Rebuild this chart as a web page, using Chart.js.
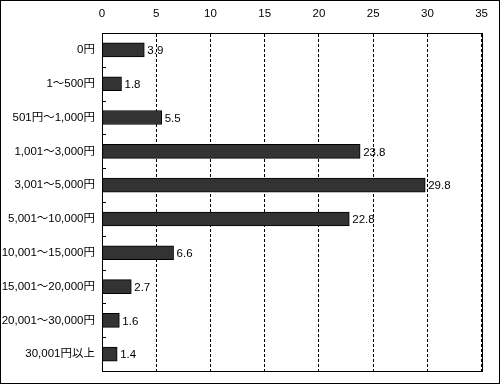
<!DOCTYPE html>
<html lang="ja">
<head>
  <meta charset="UTF-8">
  <title>金額分布</title>
  <script src="https://cdn.jsdelivr.net/npm/chart.js"></script>
  <style>
    body { margin: 0; padding: 0; background: #fff; }
    .wrap { position: relative; width: 500px; height: 385px; }
  </style>
</head>
<body>
  <div class="wrap">
    <canvas id="chart" width="500" height="385"></canvas>
  </div>

  <script>
    // categories and values
    const categories = [
      '0円', '1～500円', '501円～1,000円', '1,001～3,000円', '3,001～5,000円',
      '5,001～10,000円', '10,001～15,000円', '15,001～20,000円', '20,001～30,000円', '30,001円以上'
    ];
    const values = [3.9, 1.8, 5.5, 23.8, 29.8, 22.8, 6.6, 2.7, 1.6, 1.4];
    const xTicks = [0, 5, 10, 15, 20, 25, 30, 35];

    const FONT = { family: "'Liberation Sans', 'Noto Sans CJK JP', sans-serif", size: 11.5 };

    // frame, plot border, inner category ticks and value labels
    const decor = {
      id: 'decor',
      afterDraw(chart) {
        const ctx = chart.ctx;
        const a = chart.chartArea;
        const y = chart.scales.y;
        ctx.save();
        ctx.strokeStyle = '#000';
        ctx.lineWidth = 1;
        ctx.setLineDash([]);
        // plot rectangle
        ctx.strokeRect(Math.round(a.left) + 0.5, Math.round(a.top) + 0.5,
          Math.round(a.right - a.left), Math.round(a.bottom - a.top));
        // small ticks between categories, pointing inward
        for (let i = 1; i < categories.length; i++) {
          const py = Math.round((y.getPixelForValue(i - 1) + y.getPixelForValue(i)) / 2) + 0.5;
          ctx.beginPath();
          ctx.moveTo(a.left, py);
          ctx.lineTo(a.left + 4, py);
          ctx.stroke();
        }
        // outer frame
        ctx.strokeRect(0.5, 0.5, 499, 383);

        // value labels
        ctx.fillStyle = '#000';
        ctx.font = FONT.size + 'px ' + FONT.family;
        ctx.textAlign = 'left';
        ctx.textBaseline = 'middle';
        chart.getDatasetMeta(0).data.forEach((bar, i) => {
          ctx.fillText(values[i].toFixed(1), bar.x + 3, bar.y + 1);
        });
        ctx.restore();
      }
    };

    new Chart(document.getElementById('chart'), {
      type: 'bar',
      data: {
        labels: categories,
        datasets: [{
          data: values,
          backgroundColor: '#333333',
          borderColor: '#000000',
          borderWidth: 1,
          borderSkipped: false,
          barThickness: 14
        }]
      },
      options: {
        indexAxis: 'y',
        responsive: false,
        animation: false,
        devicePixelRatio: 1,
        layout: { padding: { left: 0, right: 13, top: 0, bottom: 5 } },
        plugins: { legend: { display: false }, tooltip: { enabled: false } },
        scales: {
          x: {
            position: 'top',
            min: 0,
            max: 35,
            afterBuildTicks(scale) {
              scale.ticks = xTicks.map(v => ({ value: v }));
            },
            afterFit(scale) { scale.height = 33; },
            grid: {
              color: '#000',
              lineWidth: 1,
              drawTicks: false
            },
            border: { display: true, color: '#000', dash: [3, 2] },
            ticks: { color: '#000', font: FONT, padding: 12, maxRotation: 0 }
          },
          y: {
            afterFit(scale) { scale.width = 102; },
            grid: { display: false, drawTicks: false },
            border: { display: true, color: '#000' },
            ticks: { color: '#000', font: FONT, padding: 7, autoSkip: false }
          }
        }
      },
      plugins: [decor]
    });
  </script>
</body>
</html>
